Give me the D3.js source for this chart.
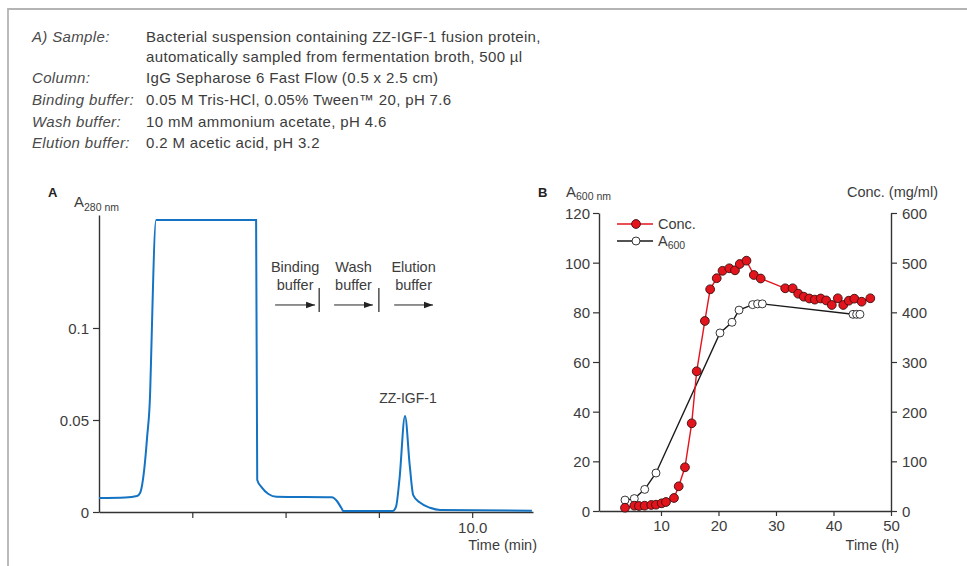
<!DOCTYPE html>
<html>
<head>
<meta charset="utf-8">
<script src="https://cdn.jsdelivr.net/npm/d3@7"></script>
<style>
    body { margin: 0; background: #fff; }
    svg { display: block; font-family: 'Liberation Sans', Arial, sans-serif; }
</style>
</head>
<body>
<div id="holder"></div>
<script>

// ---- data ----

// method description
var descLabels = ['A) Sample:', '', 'Column:', 'Binding buffer:', 'Wash buffer:', 'Elution buffer:'];
var descValues = [
    'Bacterial suspension containing ZZ-IGF-1 fusion protein,',
    'automatically sampled from fermentation broth, 500 µl',
    'IgG Sepharose 6 Fast Flow (0.5 x 2.5 cm)',
    '0.05 M Tris-HCl, 0.05% Tween™ 20, pH 7.6',
    '10 mM ammonium acetate, pH 4.6',
    '0.2 M acetic acid, pH 3.2'
];

// panel A: chromatogram (time in min, absorbance at 280 nm)
var chromTime = [0, 0.70, 1.02, 1.10, 1.21, 1.29, 1.37, 1.38, 1.53, 4.21, 4.24, 4.36, 4.54, 4.76,
    6.24, 6.37, 6.50, 6.55, 7.87, 7.96, 8.05, 8.20, 8.33, 8.42, 8.60, 8.87, 9.14, 11.60];
var chromAbs = [0.0076, 0.0079, 0.0087, 0.0103, 0.0228, 0.0408, 0.0647, 0.0717, 0.1587, 0.1587,
    0.0174, 0.0134, 0.0098, 0.0083, 0.0080, 0.0061, 0.0020, 0.0005, 0.0005, 0.0029, 0.0174,
    0.0522, 0.0246, 0.0092, 0.0051, 0.0023, 0.0011, 0.0007];
var chromTicks = [2.5, 5, 7.5, 10];
var chromYTicks = [0, 0.05, 0.1];

// buffer annotations (arrow start / end in min)
var bufferNames = ['Binding', 'Wash', 'Elution'];
var bufferStart = [4.72, 6.30, 7.91];
var bufferEnd = [5.79, 7.34, 8.95];
var bufferSwitch = [5.90, 7.50];

// panel B: fermentation (time in h)
var concTime = [3.74, 5.36, 6.17, 7.17, 8.31, 9.13, 10.12, 10.87, 12.26, 13.08, 14.17, 15.34, 16.21,
    17.63, 18.55, 19.69, 20.70, 21.88, 22.87, 23.70, 24.87, 26.14, 27.34, 31.60, 32.90, 33.86,
    34.83, 35.79, 36.75, 37.77, 38.73, 39.70, 40.75, 41.70, 42.66, 43.62, 44.90, 46.40];
var concValue = [6.6, 10.7, 10.1, 10.7, 12.1, 12.7, 15.5, 18.1, 26.2, 49.7, 88.0, 176.6, 281.3,
    382.6, 446.4, 468.7, 483.6, 488.7, 484.6, 497.3, 504.0, 475.2, 468.1, 448.4, 448.4, 437.5,
    431.5, 427.9, 425.6, 427.9, 424.0, 414.8, 428.3, 414.8, 423.4, 427.5, 421.4, 428.3];
var a600Time = [3.74, 5.36, 7.17, 9.13, 20.26, 22.35, 23.57, 25.94, 26.80, 27.62, 43.39, 44.03, 44.60];
var a600Value = [4.4, 5.0, 8.7, 15.3, 71.7, 76.0, 80.9, 83.1, 83.4, 83.4, 79.2, 79.2, 79.2];
var fermTicks = [10, 20, 30, 40, 50];
var a600Ticks = [0, 20, 40, 60, 80, 100, 120];
var concTicks = [0, 100, 200, 300, 400, 500, 600];

// ---- drawing ----

var width = 967;
var height = 566;
var textColor = '#3c3c3c';
var axisColor = '#333';
var blue = '#1473c2';
var red = '#e3141c';

var svg = d3
    .select('#holder')
    .append('svg')
    .attr('width', width)
    .attr('height', height);

// frame lines
svg.append('path')
    .attr('d', 'M8,566V9H967')
    .style('fill', 'none')
    .style('stroke', '#b4b4b4')
    .style('stroke-width', 1.8);

// description block
var desc = svg.append('g').attr('class', 'desc');
var descY = [42, 62, 83, 105, 127, 148];
descLabels.forEach(function(d, i) {
    desc.append('text')
        .attr('x', 32)
        .attr('y', descY[i])
        .style('font-size', '15px')
        .style('letter-spacing', '0.35px')
        .style('font-style', 'italic')
        .style('fill', '#4a4a4a')
        .text(d);
    desc.append('text')
        .attr('x', 146)
        .attr('y', descY[i])
        .style('font-size', '15px')
        .style('letter-spacing', '0.35px')
        .style('fill', textColor)
        .text(descValues[i]);
});

function styleAxis(g) {
    g.select('.domain').style('stroke', axisColor).style('stroke-width', 1.4);
    g.selectAll('.tick line').style('stroke', axisColor).style('stroke-width', 1.2);
    g.selectAll('.tick text')
        .style('font-size', '15px')
        .style('fill', textColor)
        .style('font-family', "'Liberation Sans', Arial, sans-serif");
}

// ---- panel A ----
var xA = d3.scaleLinear().domain([0, 11.63]).range([99, 533]);
var yA = d3.scaleLinear().domain([0, 0.1614]).range([512, 215]);

svg.append('g')
    .attr('transform', 'translate(0,' + 512 + ')')
    .call(d3.axisBottom(xA)
        .tickValues(chromTicks)
        .tickSize(6)
        .tickSizeOuter(0)
        .tickFormat(function(d) { return d === 10 ? '10.0' : ''; }))
    .call(styleAxis)
    .call(function(g) { g.selectAll('.tick text').attr('dy', '0.8em'); });

svg.append('g')
    .attr('transform', 'translate(' + 99 + ',0)')
    .call(d3.axisLeft(yA)
        .tickValues(chromYTicks)
        .tickSize(6)
        .tickSizeOuter(0)
        .tickFormat(function(d) { return d === 0 ? '0' : String(d); }))
    .call(styleAxis)
    .call(function(g) { g.selectAll('.tick text').attr('x', -10).attr('dy', '0.36em'); });

var chromData = chromTime.map(function(t, i) { return [t, chromAbs[i]]; });
svg.append('path')
    .datum(chromData)
    .attr('d', d3.line()
        .x(function(d) { return xA(d[0]); })
        .y(function(d) { return yA(d[1]); })
        .curve(d3.curveMonotoneX))
    .style('fill', 'none')
    .style('stroke', blue)
    .style('stroke-width', 2);

// panel label and axis title
svg.append('text')
    .attr('x', 48).attr('y', 197)
    .style('font-size', '13px').style('font-weight', 'bold').style('fill', '#222')
    .text('A');
var aTitle = svg.append('text')
    .attr('x', 74).attr('y', 207)
    .style('font-size', '15px').style('fill', textColor);
aTitle.append('tspan').text('A');
aTitle.append('tspan').attr('dy', 4).style('font-size', '10.5px').text('280 nm');

svg.append('text')
    .attr('x', 537).attr('y', 550)
    .attr('text-anchor', 'end')
    .style('font-size', '14.5px').style('fill', textColor)
    .text('Time (min)');

// peak label
svg.append('text')
    .attr('x', xA(8.28)).attr('y', yA(0.0592))
    .attr('text-anchor', 'middle')
    .style('font-size', '14px').style('fill', textColor)
    .text('ZZ-IGF-1');

// buffer arrows
svg.append('defs')
    .append('marker')
    .attr('id', 'arrowhead')
    .attr('viewBox', '0 0 10 10')
    .attr('refX', 10).attr('refY', 5)
    .attr('markerWidth', 9).attr('markerHeight', 9)
    .attr('markerUnits', 'userSpaceOnUse')
    .attr('orient', 'auto')
    .append('path')
    .attr('d', 'M0,1.5L10,5L0,8.5Z')
    .style('fill', '#222');

var buffers = svg.append('g').attr('class', 'buffers');
bufferNames.forEach(function(name, i) {
    var cx = xA((bufferStart[i] + bufferEnd[i]) / 2);
    buffers.append('text')
        .attr('x', cx).attr('y', yA(0.1305))
        .attr('text-anchor', 'middle')
        .style('font-size', '14.5px').style('fill', textColor)
        .text(name);
    buffers.append('text')
        .attr('x', cx).attr('y', yA(0.1207))
        .attr('text-anchor', 'middle')
        .style('font-size', '14.5px').style('fill', textColor)
        .text('buffer');
    buffers.append('line')
        .attr('x1', xA(bufferStart[i])).attr('x2', xA(bufferEnd[i]))
        .attr('y1', yA(0.1125)).attr('y2', yA(0.1125))
        .attr('marker-end', 'url(#arrowhead)')
        .style('stroke', '#222').style('stroke-width', 1);
});
bufferSwitch.forEach(function(t) {
    buffers.append('line')
        .attr('x1', xA(t)).attr('x2', xA(t))
        .attr('y1', yA(0.1217)).attr('y2', yA(0.1087))
        .style('stroke', '#222').style('stroke-width', 1.2);
});

// ---- panel B ----
var xB = d3.scaleLinear().domain([-0.78, 50]).range([599, 891]);
var yB = d3.scaleLinear().domain([0, 120]).range([511, 213]);
var yC = d3.scaleLinear().domain([0, 600]).range([511, 213]);

svg.append('g')
    .attr('transform', 'translate(0,' + 511 + ')')
    .call(d3.axisBottom(xB)
        .tickValues(fermTicks)
        .tickSize(5)
        .tickSizeOuter(0))
    .call(styleAxis)
    .call(function(g) { g.selectAll('.tick text').attr('dy', '0.8em'); });

svg.append('g')
    .attr('transform', 'translate(' + 599 + ',0)')
    .call(d3.axisLeft(yB)
        .tickValues(a600Ticks)
        .tickSize(6)
        .tickSizeOuter(0))
    .call(styleAxis)
    .call(function(g) { g.selectAll('.tick text').attr('x', -9).attr('dy', '0.36em'); });

svg.append('g')
    .attr('transform', 'translate(' + 891 + ',0)')
    .call(d3.axisRight(yC)
        .tickValues(concTicks)
        .tickSize(6)
        .tickSizeOuter(0))
    .call(styleAxis)
    .call(function(g) { g.selectAll('.tick text').attr('x', 11).attr('dy', '0.36em'); });

svg.append('text')
    .attr('x', 538).attr('y', 197)
    .style('font-size', '13px').style('font-weight', 'bold').style('fill', '#222')
    .text('B');
var bTitle = svg.append('text')
    .attr('x', 566).attr('y', 197)
    .style('font-size', '15px').style('fill', textColor);
bTitle.append('tspan').text('A');
bTitle.append('tspan').attr('dy', 3).style('font-size', '10.5px').text('600 nm');

svg.append('text')
    .attr('x', 938).attr('y', 197)
    .attr('text-anchor', 'end')
    .style('font-size', '14.5px').style('fill', textColor)
    .text('Conc. (mg/ml)');

svg.append('text')
    .attr('x', 899).attr('y', 550)
    .attr('text-anchor', 'end')
    .style('font-size', '14.5px').style('fill', textColor)
    .text('Time (h)');

// A600 series (open circles)
var a600Data = a600Time.map(function(t, i) { return [t, a600Value[i]]; });
svg.append('path')
    .datum(a600Data)
    .attr('d', d3.line()
        .x(function(d) { return xB(d[0]); })
        .y(function(d) { return yB(d[1]); }))
    .style('fill', 'none')
    .style('stroke', '#1a1a1a')
    .style('stroke-width', 1.4);
svg.append('g')
    .selectAll('circle')
    .data(a600Data)
    .enter()
    .append('circle')
    .attr('cx', function(d) { return xB(d[0]); })
    .attr('cy', function(d) { return yB(d[1]); })
    .attr('r', 4)
    .style('fill', '#fff')
    .style('stroke', '#222')
    .style('stroke-width', 0.9);

// concentration series (filled red circles)
var concData = concTime.map(function(t, i) { return [t, concValue[i]]; });
svg.append('path')
    .datum(concData)
    .attr('d', d3.line()
        .x(function(d) { return xB(d[0]); })
        .y(function(d) { return yC(d[1]); }))
    .style('fill', 'none')
    .style('stroke', red)
    .style('stroke-width', 1.4);
svg.append('g')
    .selectAll('circle')
    .data(concData)
    .enter()
    .append('circle')
    .attr('cx', function(d) { return xB(d[0]); })
    .attr('cy', function(d) { return yC(d[1]); })
    .attr('r', 4.4)
    .style('fill', red)
    .style('stroke', '#3a1010')
    .style('stroke-width', 0.9);

// legend
var legend = svg.append('g').attr('class', 'legend');
var legendItems = [
    { label: 'Conc.', sub: '', line: red, fill: red, stroke: '#3a1010', r: 4.4 },
    { label: 'A', sub: '600', line: '#1a1a1a', fill: '#fff', stroke: '#222', r: 4 }
];
legendItems.forEach(function(d, i) {
    var ly = 224 + i * 17;
    legend.append('line')
        .attr('x1', 617).attr('x2', 653)
        .attr('y1', ly).attr('y2', ly)
        .style('stroke', d.line).style('stroke-width', 1.4);
    legend.append('circle')
        .attr('cx', 636).attr('cy', ly).attr('r', d.r)
        .style('fill', d.fill).style('stroke', d.stroke).style('stroke-width', 0.9);
    var t = legend.append('text')
        .attr('x', 658).attr('y', ly + 5)
        .style('font-size', '14.5px').style('fill', textColor);
    t.append('tspan').text(d.label);
    if (d.sub) {
        t.append('tspan').attr('dy', 3).style('font-size', '10.5px').text(d.sub);
    }
});

</script>
</body>
</html>
